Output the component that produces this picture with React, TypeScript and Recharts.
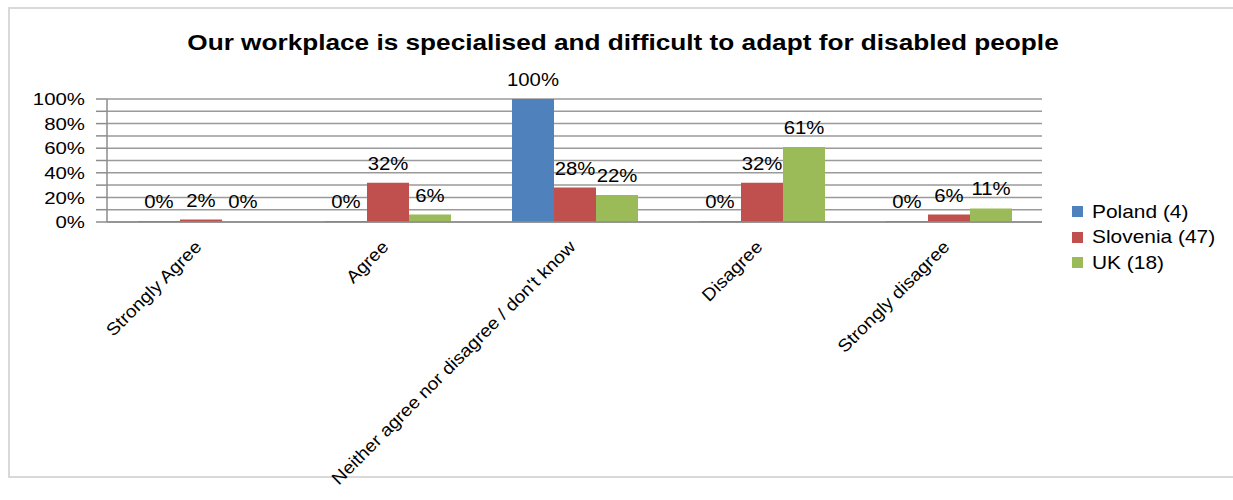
import React from "react";
import {
  BarChart,
  Bar,
  XAxis,
  YAxis,
  CartesianGrid,
  LabelList,
} from "recharts";

const title = "Our workplace is specialised and difficult to adapt for disabled people";
const categories = [
  "Strongly Agree",
  "Agree",
  "Neither agree nor disagree / don't know",
  "Disagree",
  "Strongly disagree",
];
const poland = [0, 0, 100, 0, 0];
const slovenia = [2, 32, 28, 32, 6];
const uk = [0, 6, 22, 61, 11];
const seriesNames = ["Poland (4)", "Slovenia (47)", "UK (18)"];
const seriesColors = ["#4F81BD", "#C0504D", "#9BBB59"];
const yTicks = [0, 10, 20, 30, 40, 50, 60, 70, 80, 90, 100];
const boundaryTicks = [0, 1, 2, 3, 4, 5];

const data = categories.map((c, i) => ({
  name: c,
  idx: i + 0.5,
  poland: poland[i],
  slovenia: slovenia[i],
  uk: uk[i],
}));

const FONT = "'Liberation Sans', Arial, Helvetica, sans-serif";

const YTick = (props: any) => {
  const { x, y, payload } = props;
  if (payload.value % 20 !== 0) return <g />;
  return (
    <g transform={`translate(${x - 11},${y}) scale(1.2,1)`}>
      <text dy="0.36em" textAnchor="end" fontSize={17} fill="#000" fontFamily={FONT}>
        {payload.value}%
      </text>
    </g>
  );
};

const XTick = (props: any) => {
  const { x, y, payload } = props;
  return (
    <g transform={`translate(${x + 2},${y + 24})`}>
      <text transform="rotate(-45) scale(1.1,1)" textAnchor="end" fontSize={17.5} fill="#000" fontFamily={FONT}>
        {payload.value}
      </text>
    </g>
  );
};

const ValueLabel = (props: any) => {
  const { x, y, width, value } = props;
  return (
    <g transform={`translate(${x + width / 2},${y - 13}) scale(1.13,1)`}>
      <text textAnchor="middle" fontSize={18} fill="#000" fontFamily={FONT}>
        {value}%
      </text>
    </g>
  );
};

export default function App() {
  const keys = ["poland", "slovenia", "uk"];
  return (
    <div style={{ position: "absolute", left: 0, top: 0, width: 1233, height: 500, background: "#fff", overflow: "hidden", fontFamily: FONT }}>
      <div
        style={{
          position: "absolute",
          left: 8,
          top: 7,
          width: 1260,
          height: 467,
          borderLeft: "2px solid #d9d9d9",
          borderTop: "2px solid #d9d9d9",
          borderBottom: "2px solid #d9d9d9",
        }}
      />
      <div
        style={{
          position: "absolute",
          left: 0,
          width: 1246,
          top: 30,
          textAlign: "center",
          fontSize: 22,
          fontWeight: "bold",
          color: "#000",
          transform: "scaleX(1.19)",
          transformOrigin: "623px 0",
        }}
      >
        {title}
      </div>
      <div style={{ position: "absolute", left: 0, top: 0 }}>
        <BarChart
          width={1233}
          height={500}
          data={data}
          margin={{ top: 99, right: 191, bottom: 248, left: 47 }}
          barCategoryGap={31}
          barGap={0}
        >
          <CartesianGrid vertical={false} stroke="#9a9a9a" strokeWidth={1.5} />
          <XAxis
            xAxisId="cat"
            dataKey="name"
            tickLine={false}
            tickSize={0}
            axisLine={{ stroke: "#8c8c8c", strokeWidth: 1.5 }}
            tick={<XTick />}
            interval={0}
            height={30}
          />
          <XAxis
            xAxisId="edge"
            dataKey="idx"
            type="number"
            domain={[0, 5]}
            ticks={boundaryTicks}
            tickSize={10}
            tickLine={{ stroke: "#8c8c8c", strokeWidth: 1.5 }}
            axisLine={false}
            tick={false}
            height={0}
          />
          <YAxis
            domain={[0, 100]}
            ticks={yTicks}
            interval={0}
            width={60}
            tickSize={11}
            tickMargin={0}
            tickLine={{ stroke: "#8c8c8c", strokeWidth: 1.5 }}
            axisLine={{ stroke: "#8c8c8c", strokeWidth: 1.5 }}
            tick={<YTick />}
          />
          {keys.map((k, i) => (
            <Bar
              key={k}
              xAxisId="cat"
              dataKey={k}
              name={seriesNames[i]}
              fill={seriesColors[i]}
              minPointSize={1}
              isAnimationActive={false}
            >
              <LabelList dataKey={k} content={<ValueLabel />} />
            </Bar>
          ))}
        </BarChart>
      </div>
      <div style={{ position: "absolute", left: 1072, top: 199 }}>
        {seriesNames.map((n, i) => (
          <div key={n} style={{ display: "flex", alignItems: "center", height: 25.5, fontSize: 19, color: "#000" }}>
            <span style={{ display: "inline-block", width: 11, height: 11, background: seriesColors[i], marginRight: 9 }} />
            <span style={{ display: "inline-block", transform: "scaleX(1.1)", transformOrigin: "0 0" }}>{n}</span>
          </div>
        ))}
      </div>
    </div>
  );
}
